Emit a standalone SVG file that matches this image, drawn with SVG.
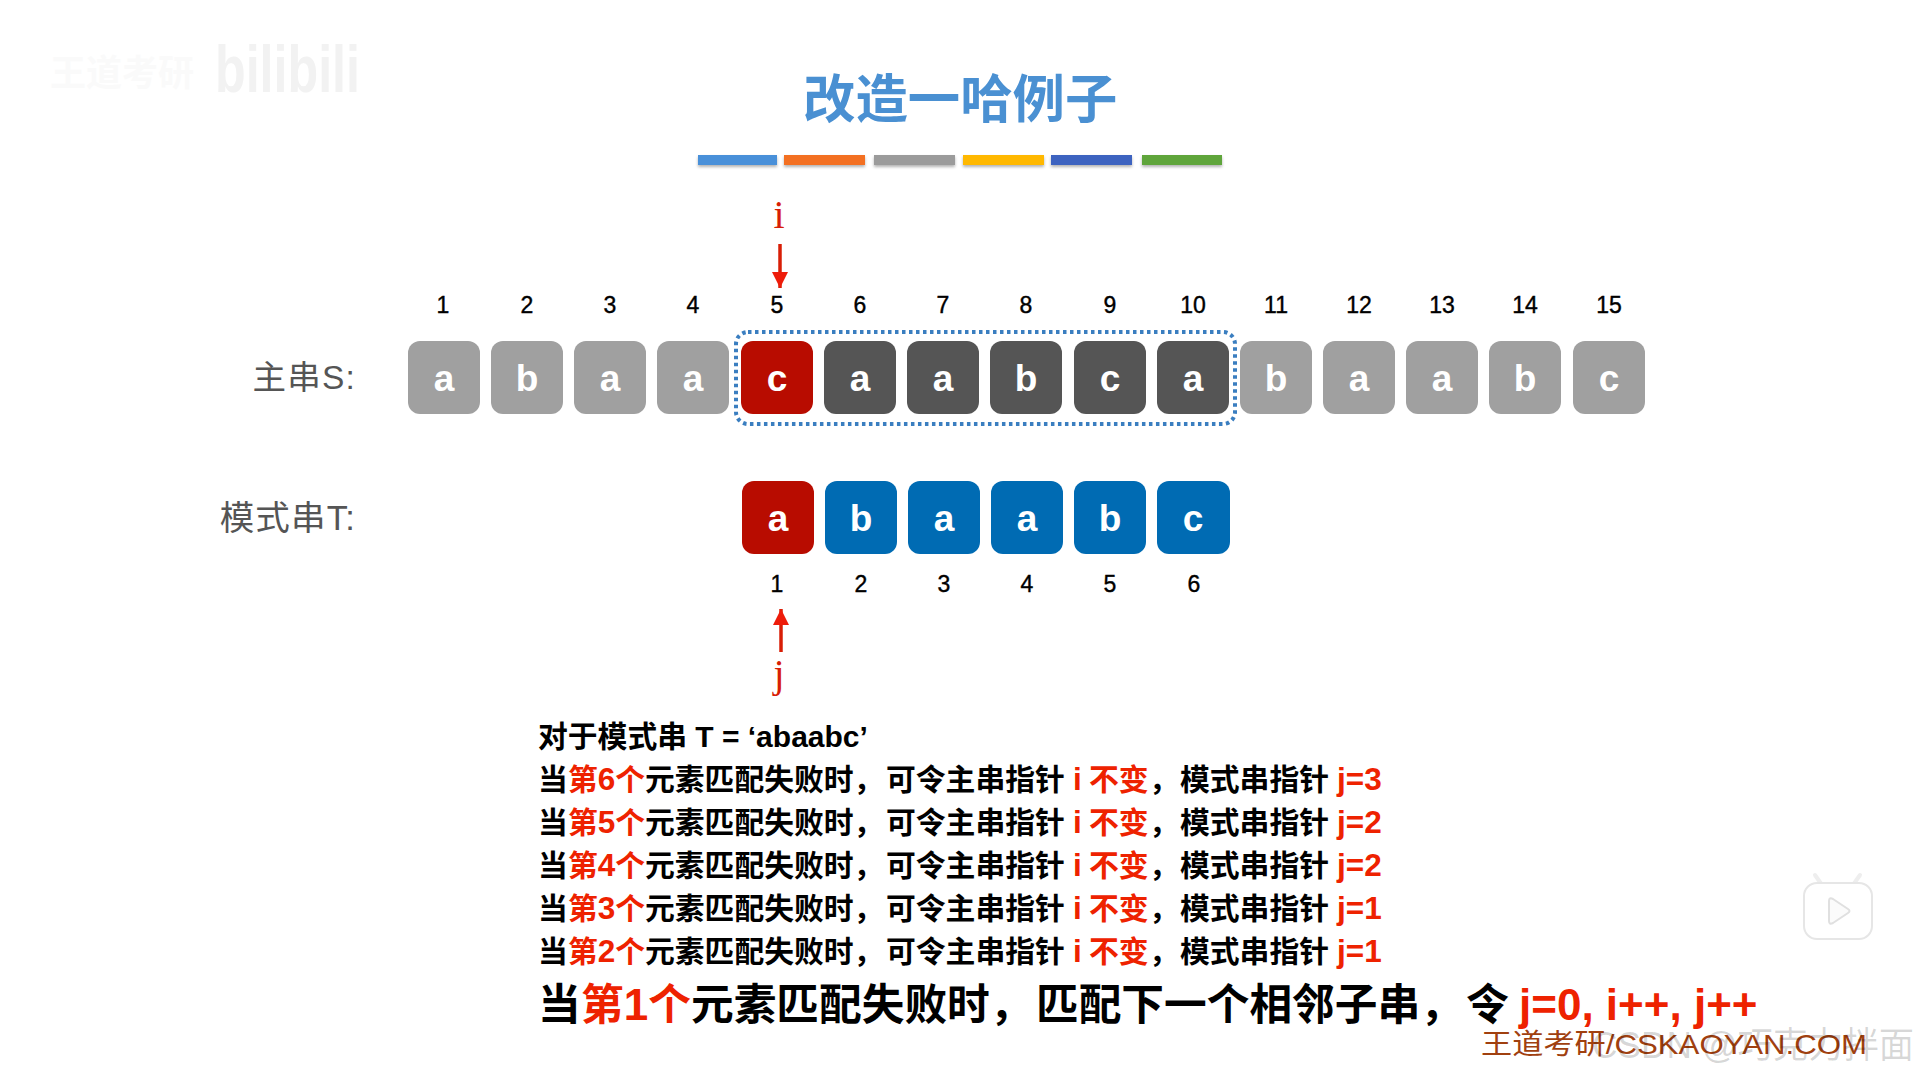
<svg xmlns="http://www.w3.org/2000/svg" width="1919" height="1079" viewBox="0 0 1919 1079">
<defs>
<style>
text{font-family:"Liberation Sans","Noto Sans CJK SC",sans-serif}
.g{fill:#a0a0a0}.d{fill:#555}.r{fill:#b80c00}.b{fill:#006bb3}
.ch{font-size:37px;font-weight:700;fill:#fff;text-anchor:middle}
.n{font-size:23px;fill:#000;text-anchor:middle;stroke:#000;stroke-width:.4}
.lab{font-size:33.5px;fill:#555;text-anchor:end;letter-spacing:1.2px}
.labt{font-size:34.5px}
.t{font-size:29.8px;font-weight:700;fill:#000}
.big{font-size:42.7px;font-weight:700;fill:#000}
.red{fill:#ee2200}
.lat{font-size:31.5px}
.lat0{font-size:30px}
.latb{font-size:44px}
.bar{filter:url(#sh)}
.ptr{font-family:"Liberation Serif","Noto Serif",serif;font-size:40px;fill:#d81e06;text-anchor:middle}
</style>
<filter id="sh" x="-5%" y="-30%" width="110%" height="190%"><feDropShadow dx="0" dy="2" stdDeviation="1.5" flood-color="#000" flood-opacity=".3"/></filter>
<marker id="ah" markerUnits="userSpaceOnUse" markerWidth="17" markerHeight="17" refX="16" refY="8" orient="auto"><path d="M0 0L16 8L0 16Z" fill="#ee1c0a"/></marker>
</defs>
<rect width="1919" height="1079" fill="#fff"/>
<g id="watermark-top">
<text x="50" y="86" font-size="36" font-weight="700" fill="#fafafa">王道考研</text>
<text x="215" y="92" font-size="66" font-weight="700" fill="#f2f2f2" textLength="145" lengthAdjust="spacingAndGlyphs">bilibili</text>
</g>
<g id="title">
<text x="803" y="118" font-size="52.4" font-weight="700" fill="#4a90d2">改造一哈例子</text>
<rect class="bar" x="698" y="155" width="79" height="10" fill="#4a90d9"/>
<rect class="bar" x="784" y="155" width="81" height="10" fill="#f37021"/>
<rect class="bar" x="874" y="155" width="81" height="10" fill="#9b9b9b"/>
<rect class="bar" x="963" y="155" width="81" height="10" fill="#ffb800"/>
<rect class="bar" x="1051" y="155" width="81" height="10" fill="#3c64c0"/>
<rect class="bar" x="1142" y="155" width="80" height="10" fill="#5fa53a"/>
</g>
<g id="label-S"><text class="lab" x="356" y="389">主串S:</text></g>
<g id="label-T"><text class="lab labt" x="356" y="530">模式串T:</text></g>
<g id="string-S">
<g id="s1"><rect class="g" x="408" y="341" width="72" height="73" rx="12"/><text class="ch" x="444" y="391">a</text><text class="n" x="443" y="313">1</text></g>
<g id="s2"><rect class="g" x="491" y="341" width="72" height="73" rx="12"/><text class="ch" x="527" y="391">b</text><text class="n" x="527" y="313">2</text></g>
<g id="s3"><rect class="g" x="574" y="341" width="72" height="73" rx="12"/><text class="ch" x="610" y="391">a</text><text class="n" x="610" y="313">3</text></g>
<g id="s4"><rect class="g" x="657" y="341" width="72" height="73" rx="12"/><text class="ch" x="693" y="391">a</text><text class="n" x="693" y="313">4</text></g>
<g id="s5"><rect class="r" x="741" y="341" width="72" height="73" rx="12"/><text class="ch" x="777" y="391">c</text><text class="n" x="777" y="313">5</text></g>
<g id="s6"><rect class="d" x="824" y="341" width="72" height="73" rx="12"/><text class="ch" x="860" y="391">a</text><text class="n" x="860" y="313">6</text></g>
<g id="s7"><rect class="d" x="907" y="341" width="72" height="73" rx="12"/><text class="ch" x="943" y="391">a</text><text class="n" x="943" y="313">7</text></g>
<g id="s8"><rect class="d" x="990" y="341" width="72" height="73" rx="12"/><text class="ch" x="1026" y="391">b</text><text class="n" x="1026" y="313">8</text></g>
<g id="s9"><rect class="d" x="1074" y="341" width="72" height="73" rx="12"/><text class="ch" x="1110" y="391">c</text><text class="n" x="1110" y="313">9</text></g>
<g id="s10"><rect class="d" x="1157" y="341" width="72" height="73" rx="12"/><text class="ch" x="1193" y="391">a</text><text class="n" x="1193" y="313">10</text></g>
<g id="s11"><rect class="g" x="1240" y="341" width="72" height="73" rx="12"/><text class="ch" x="1276" y="391">b</text><text class="n" x="1276" y="313">11</text></g>
<g id="s12"><rect class="g" x="1323" y="341" width="72" height="73" rx="12"/><text class="ch" x="1359" y="391">a</text><text class="n" x="1359" y="313">12</text></g>
<g id="s13"><rect class="g" x="1406" y="341" width="72" height="73" rx="12"/><text class="ch" x="1442" y="391">a</text><text class="n" x="1442" y="313">13</text></g>
<g id="s14"><rect class="g" x="1489" y="341" width="72" height="73" rx="12"/><text class="ch" x="1525" y="391">b</text><text class="n" x="1525" y="313">14</text></g>
<g id="s15"><rect class="g" x="1573" y="341" width="72" height="73" rx="12"/><text class="ch" x="1609" y="391">c</text><text class="n" x="1609" y="313">15</text></g>
</g>
<g id="window"><rect x="736" y="332" width="499" height="92" rx="12" fill="none" stroke="#3a7ec0" stroke-width="4" stroke-dasharray="3.5 3.5"/></g>
<g id="string-T">
<g id="t1"><rect class="r" x="742" y="481" width="72" height="73" rx="12"/><text class="ch" x="778" y="531">a</text><text class="n" x="777" y="592">1</text></g>
<g id="t2"><rect class="b" x="825" y="481" width="72" height="73" rx="12"/><text class="ch" x="861" y="531">b</text><text class="n" x="861" y="592">2</text></g>
<g id="t3"><rect class="b" x="908" y="481" width="72" height="73" rx="12"/><text class="ch" x="944" y="531">a</text><text class="n" x="944" y="592">3</text></g>
<g id="t4"><rect class="b" x="991" y="481" width="72" height="73" rx="12"/><text class="ch" x="1027" y="531">a</text><text class="n" x="1027" y="592">4</text></g>
<g id="t5"><rect class="b" x="1074" y="481" width="72" height="73" rx="12"/><text class="ch" x="1110" y="531">b</text><text class="n" x="1110" y="592">5</text></g>
<g id="t6"><rect class="b" x="1157" y="481" width="73" height="73" rx="12"/><text class="ch" x="1193" y="531">c</text><text class="n" x="1194" y="592">6</text></g>
</g>
<g id="connectors">
<line x1="780" y1="244" x2="780" y2="288" stroke="#d81e06" stroke-width="3.5" marker-end="url(#ah)"/>
<line x1="781" y1="652" x2="781" y2="609" stroke="#d81e06" stroke-width="3.5" marker-end="url(#ah)"/>
</g>
<g id="pointer-i"><text class="ptr" x="779" y="228">i</text></g>
<g id="pointer-j"><text class="ptr" x="779" y="687">j</text></g>
<g id="notes">
<text class="t" x="538" y="747">对于模式串 <tspan class="lat0">T = ‘abaabc’</tspan></text>
<text class="t" y="790"><tspan x="538">当</tspan><tspan class="red" x="568">第<tspan class="lat">6</tspan>个</tspan><tspan x="645">元素匹配失败时，</tspan><tspan x="886">可令主串指针 </tspan><tspan class="red lat" x="1073">i</tspan><tspan class="red" x="1089">不变</tspan><tspan x="1149">，</tspan><tspan x="1180">模式串指针 </tspan><tspan class="red lat" x="1337">j=3</tspan></text>
<text class="t" y="833"><tspan x="538">当</tspan><tspan class="red" x="568">第<tspan class="lat">5</tspan>个</tspan><tspan x="645">元素匹配失败时，</tspan><tspan x="886">可令主串指针 </tspan><tspan class="red lat" x="1073">i</tspan><tspan class="red" x="1089">不变</tspan><tspan x="1149">，</tspan><tspan x="1180">模式串指针 </tspan><tspan class="red lat" x="1337">j=2</tspan></text>
<text class="t" y="876"><tspan x="538">当</tspan><tspan class="red" x="568">第<tspan class="lat">4</tspan>个</tspan><tspan x="645">元素匹配失败时，</tspan><tspan x="886">可令主串指针 </tspan><tspan class="red lat" x="1073">i</tspan><tspan class="red" x="1089">不变</tspan><tspan x="1149">，</tspan><tspan x="1180">模式串指针 </tspan><tspan class="red lat" x="1337">j=2</tspan></text>
<text class="t" y="919"><tspan x="538">当</tspan><tspan class="red" x="568">第<tspan class="lat">3</tspan>个</tspan><tspan x="645">元素匹配失败时，</tspan><tspan x="886">可令主串指针 </tspan><tspan class="red lat" x="1073">i</tspan><tspan class="red" x="1089">不变</tspan><tspan x="1149">，</tspan><tspan x="1180">模式串指针 </tspan><tspan class="red lat" x="1337">j=1</tspan></text>
<text class="t" y="962"><tspan x="538">当</tspan><tspan class="red" x="568">第<tspan class="lat">2</tspan>个</tspan><tspan x="645">元素匹配失败时，</tspan><tspan x="886">可令主串指针 </tspan><tspan class="red lat" x="1073">i</tspan><tspan class="red" x="1089">不变</tspan><tspan x="1149">，</tspan><tspan x="1180">模式串指针 </tspan><tspan class="red lat" x="1337">j=1</tspan></text>
<text class="big" y="1020"><tspan x="538">当</tspan><tspan class="red" x="581">第<tspan class="latb">1</tspan>个</tspan><tspan x="691">元素匹配失败时，</tspan><tspan x="1036">匹配下一个相邻子串，</tspan><tspan x="1466">令 </tspan><tspan class="red latb" x="1519">j=0, i++, j++</tspan></text>
</g>
<g id="watermark-bottom">
<text x="1481" y="1054" font-size="28" fill="#a0400f" textLength="386" lengthAdjust="spacingAndGlyphs">王道考研/CSKAOYAN.COM</text>
<text x="1592" y="1058" font-size="36" fill="#000" fill-opacity=".16" textLength="322" lengthAdjust="spacingAndGlyphs">CSDN @巧克力拌面</text>
</g>
<g id="play-icon">
<path d="M1822 885l-7-10M1853 885l7-10" stroke="#eee" stroke-width="4" stroke-linecap="round"/>
<rect x="1804" y="883" width="68" height="56" rx="13" fill="#fff" stroke="#e6e6e6" stroke-width="2"/>
<path d="M1829 901q0-4 4-2l15 10q3 2 0 4l-15 10q-4 2-4-2Z" fill="#fbfbfb" stroke="#e0e0e0" stroke-width="2"/>
</g>
</svg>
